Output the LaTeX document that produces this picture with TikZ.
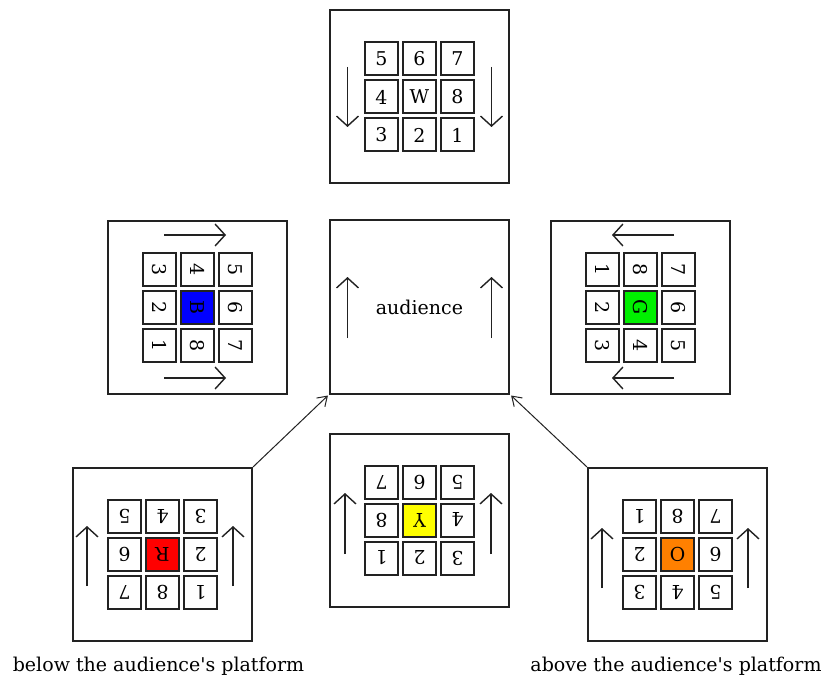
\documentclass[tikz,border=0pt]{standalone}
\usepackage{fontspec}
\usetikzlibrary{arrows.meta,calc}
\newfontfamily\dvserif{DejaVu Serif}
\definecolor{ink}{HTML}{222222}
\definecolor{faceB}{HTML}{0000FF}
\definecolor{faceG}{HTML}{00F000}
\definecolor{faceR}{HTML}{FF0000}
\definecolor{faceY}{HTML}{FFFF00}
\definecolor{faceO}{HTML}{FF8000}
\tikzset{
  facebox/.style={draw=ink, line width=2pt, minimum width=179pt, minimum height=173pt, inner sep=0pt},
  cell/.style={draw=ink, line width=2pt, minimum size=33pt, inner sep=0pt,
    font=\dvserif\fontsize{19}{19}\selectfont},
  flow/.style={draw=ink, line width=1.4pt, -{Straight Barb[length=10pt,width=22pt]}},
  link/.style={draw=ink, line width=1pt, shorten >=1.5pt, -{Straight Barb[length=9pt,width=12pt]}},
  caption/.style={font=\dvserif\fontsize{19}{22}\selectfont, inner sep=0pt, anchor=base},
  midtext/.style={font=\dvserif\fontsize{19}{22}\selectfont, inner sep=0pt},
}
% 3x3 sticker grid centred in box #1: #2 rotation of the labels,
% #3 the nine labels row by row, #4 fill of the centre sticker
\newcommand\cubeface[4]{%
  \foreach \lab [count=\k from 0] in {#3}{%
    \ifnum\k=4 \def\cellfill{#4}\else\def\cellfill{white}\fi
    \node[cell, fill=\cellfill, rotate=#2] (#1\k)
      at ($(#1)+({38*(mod(\k,3)-1)},{38*(int(\k/3)-1)})$) {\lab};
  }%
}
\begin{document}
\begin{tikzpicture}[x=1pt,y=-1pt]
  \useasboundingbox[fill=white] (0,0) rectangle (827,679);

  % the seven frames
  \node[facebox] (W) at (419.5,97) {};
  \node[facebox] (B) at (197.5,307.5) {};
  \node[facebox] (A) at (419.5,307) {};
  \node[facebox] (G) at (640.5,307.5) {};
  \node[facebox] (R) at (162.5,554.5) {};
  \node[facebox] (Y) at (419.5,520) {};
  \node[facebox] (O) at (677.5,554.5) {};

  % sticker grids
  \cubeface{W}{0}{5,6,7,4,W,8,3,2,1}{white}
  \cubeface{B}{-90}{3,4,5,2,B,6,1,8,7}{faceB}
  \cubeface{G}{-90}{1,8,7,2,G,6,3,4,5}{faceG}
  \cubeface{R}{180}{5,4,3,6,R,2,7,8,1}{faceR}
  \cubeface{Y}{180}{7,6,5,8,Y,4,1,2,3}{faceY}
  \cubeface{O}{180}{1,8,7,2,O,6,3,4,5}{faceO}

  % audience
  \node[midtext] (aud) at (419.5,307) {audience};

  % turning directions
  \draw[flow] ($(W)+(-72,-30)$) -- ($(W)+(-72,30)$);
  \draw[flow] ($(W)+(72,-30)$) -- ($(W)+(72,30)$);
  \draw[flow] ($(A)+(-72,31)$) -- ($(A)+(-72,-30)$);
  \draw[flow] ($(A)+(72,31)$) -- ($(A)+(72,-30)$);
  \draw[flow] ($(B)+(-33.5,-72.5)$) -- ($(B)+(28.5,-72.5)$);
  \draw[flow] ($(B)+(-33.5,70.5)$) -- ($(B)+(28.5,70.5)$);
  \draw[flow] ($(G)+(33.5,-72.5)$) -- ($(G)+(-28.5,-72.5)$);
  \draw[flow] ($(G)+(33.5,70.5)$) -- ($(G)+(-28.5,70.5)$);
  \draw[flow] ($(R)+(-75.5,31.5)$) -- ($(R)+(-75.5,-28.5)$);
  \draw[flow] ($(R)+(70.5,31.5)$) -- ($(R)+(70.5,-28.5)$);
  \draw[flow] ($(Y)+(-74.5,34)$) -- ($(Y)+(-74.5,-27)$);
  \draw[flow] ($(Y)+(71.5,34)$) -- ($(Y)+(71.5,-27)$);
  \draw[flow] ($(O)+(-75.5,33.5)$) -- ($(O)+(-75.5,-26.5)$);
  \draw[flow] ($(O)+(70.5,33.5)$) -- ($(O)+(70.5,-26.5)$);

  % links to the audience
  \draw[link] (R.north east) -- (A.south west);
  \draw[link] (O.north west) -- (A.south east);

  % captions
  \node[caption] (below) at (158.5,671) {below the audience's platform};
  \node[caption] (above) at (676,671) {above the audience's platform};
\end{tikzpicture}
\end{document}
